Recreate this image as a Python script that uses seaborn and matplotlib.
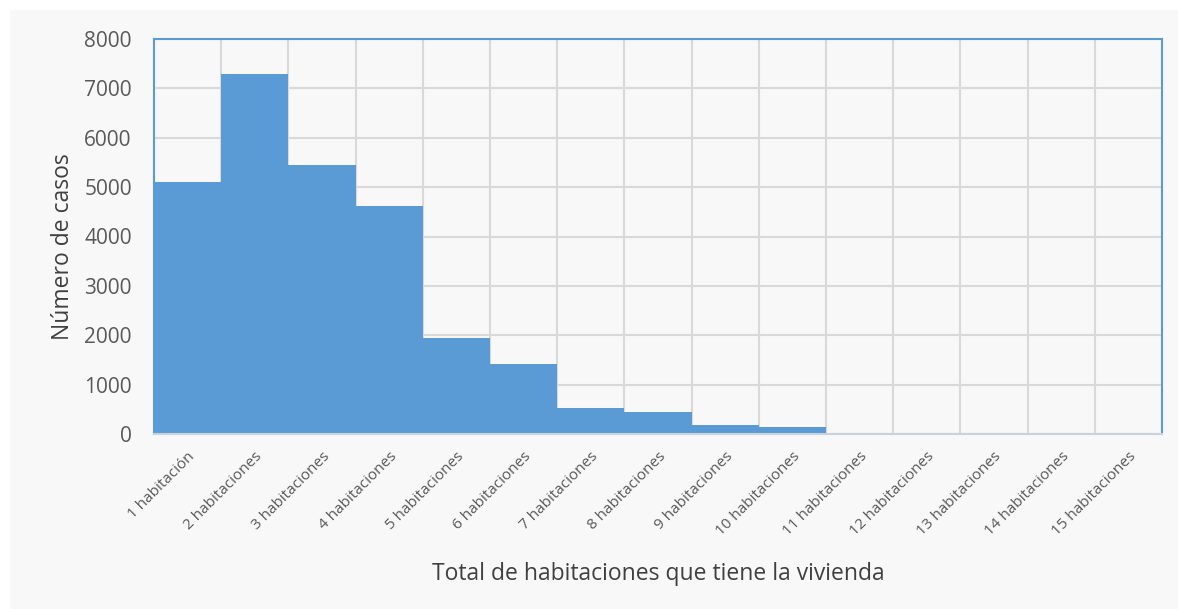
import matplotlib
matplotlib.use("Agg")
import matplotlib.pyplot as plt
import seaborn as sns
import pandas as pd
import numpy as np
from matplotlib.patches import Rectangle

categorias = ["1 habitación", "2 habitaciones", "3 habitaciones", "4 habitaciones",
              "5 habitaciones", "6 habitaciones", "7 habitaciones", "8 habitaciones",
              "9 habitaciones", "10 habitaciones", "11 habitaciones", "12 habitaciones",
              "13 habitaciones", "14 habitaciones", "15 habitaciones"]
casos = [5110, 7290, 5450, 4620, 1945, 1420, 530, 440, 178, 148, 25, 10, 6, 3, 2]
y_ticks = [0, 1000, 2000, 3000, 4000, 5000, 6000, 7000, 8000]

sns.set_theme(style="white")
plt.rcParams['font.family'] = ['Open Sans', 'DejaVu Sans']

fig = plt.figure(figsize=(11.78, 6.09), dpi=100)
fig.patch.set_facecolor("white")
fig.patches.append(Rectangle((10/1178, 0), 1 - 10/1178, 1 - 10/609,
                             transform=fig.transFigure, facecolor="#f8f8f8",
                             edgecolor="none", zorder=-10))

ax = fig.add_axes([154/1178, 1 - 434/609, (1162 - 154)/1178, (434 - 39)/609])
ax.set_facecolor("#f8f8f8")

df = pd.DataFrame({"cat": categorias, "n": casos})
sns.barplot(data=df, x="cat", y="n", color="#5b9bd5", width=1.0, saturation=1,
            edgecolor="none", linewidth=0, ax=ax, zorder=2)

ax.set_xlim(-0.5, len(categorias) - 0.5)
ax.set_ylim(0, 8000)
ax.set_yticks(y_ticks)
ax.set_yticklabels([str(v) for v in y_ticks], fontsize=15, color="#595959")
ax.set_xticks(range(len(categorias)))
ax.set_xticklabels(categorias, rotation=45, ha="right", rotation_mode="anchor",
                   fontsize=11, color="#595959")
ax.tick_params(axis="x", length=0, pad=11)
ax.tick_params(axis="y", length=0, pad=16)

ax.set_xticks(np.arange(0.5, len(categorias) - 0.5, 1), minor=True)
ax.grid(True, axis="y", which="major", color="#d9d9d9", linewidth=1.5, zorder=0)
ax.grid(True, axis="x", which="minor", color="#d9d9d9", linewidth=1.5, zorder=0)
ax.grid(False, axis="x", which="major")
ax.tick_params(axis="x", which="minor", length=0)
ax.set_axisbelow(True)

for s in ["left", "top", "right"]:
    ax.spines[s].set_color("#5b9bd5")
    ax.spines[s].set_linewidth(1.5)
    ax.spines[s].set_visible(True)
ax.spines["bottom"].set_color("#c9d3e0")
ax.spines["bottom"].set_linewidth(1.5)
ax.spines["bottom"].set_visible(True)

ax.set_xlabel("Total de habitaciones que tiene la vivienda", fontsize=16.5,
              color="#404040")
ax.xaxis.label.set_va("center")
ax.xaxis.set_label_coords(0.5, (434 - 574) / 395)
ax.set_ylabel("Número de casos", fontsize=16.5, color="#404040")
ax.yaxis.label.set_va("center")
ax.yaxis.set_label_coords((63 - 154) / 1008, (434 - 247) / 395)

fig.savefig("out.png", dpi=100, facecolor=fig.get_facecolor())
